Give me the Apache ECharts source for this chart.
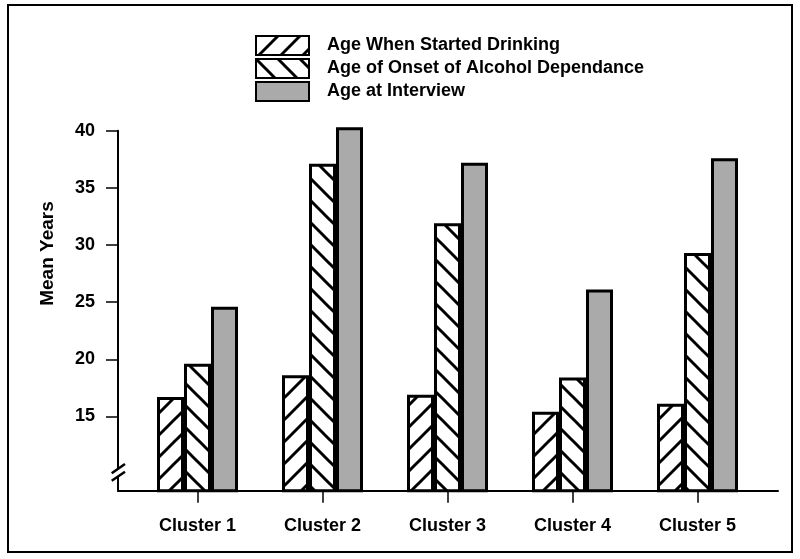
<!DOCTYPE html>
<html>
<head>
<meta charset="utf-8">
<title>Mean Years by Cluster</title>
<script src="https://cdn.jsdelivr.net/npm/echarts@6/dist/echarts.min.js"></script>
<style>
  html, body { margin: 0; padding: 0; background: #fff; }
  #chart { width: 800px; height: 559px; }
</style>
</head>
<body>
<div id="chart"></div>
<script>
// chart data
var categories = ['Cluster 1', 'Cluster 2', 'Cluster 3', 'Cluster 4', 'Cluster 5']
var seriesNames = ['Age When Started Drinking', 'Age of Onset of Alcohol Dependance', 'Age at Interview']
var startedDrinking = [16.7, 18.6, 16.9, 15.4, 16.1]
var onsetDependence = [19.6, 37.1, 31.9, 18.4, 29.3]
var ageAtInterview = [24.6, 40.3, 37.2, 26.1, 37.6]
var yTicks = [15, 20, 25, 30, 35, 40]

var font = 'Liberation Sans, Arial, Helvetica, sans-serif'

// scale: 8.5 .. 40 drawn between y=130.7 and y=490.7, bar grid reaches a bit higher
var pxPerUnit = 360 / 31.5
var barMax = 40.8
var barTop = 130.7 - (barMax - 40) * pxPerUnit

// hatch tiles for the two striped series
function makeHatch(dir) {
  var size = 22
  var c = document.createElement('canvas')
  c.width = size
  c.height = size
  var ctx = c.getContext('2d')
  ctx.fillStyle = '#fff'
  ctx.fillRect(0, 0, size, size)
  ctx.strokeStyle = '#000'
  ctx.lineWidth = 3
  var offs = [-size, 0, size]
  for (var i = 0; i < offs.length; i++) {
    var o = offs[i]
    ctx.beginPath()
    if (dir === 'up') {
      ctx.moveTo(o - 2, size + 2)
      ctx.lineTo(o + size + 2, -2)
    } else {
      ctx.moveTo(o - 2, -2)
      ctx.lineTo(o + size + 2, size + 2)
    }
    ctx.stroke()
  }
  return c
}

var chart = echarts.init(document.getElementById('chart'), null, { renderer: 'canvas' })

var barBase = {
  type: 'bar',
  xAxisIndex: 0,
  yAxisIndex: 0,
  barWidth: 27,
  barGap: '0%',
  clip: true,
  animation: false
}

var option = {
  backgroundColor: '#fff',
  animation: false,
  textStyle: { fontFamily: font },
  legend: {
    orient: 'vertical',
    left: 255,
    top: 35,
    padding: 0,
    itemWidth: 53,
    itemHeight: 19,
    itemGap: 2,
    selectedMode: false,
    icon: 'rect',
    data: seriesNames,
    textStyle: {
      fontFamily: font,
      fontWeight: 'bold',
      fontSize: 18,
      lineHeight: 19,
      color: '#000',
      padding: [0, 0, 0, 13]
    }
  },
  grid: [
    { left: 135, right: 40, top: barTop, bottom: 68.3 },
    { left: 118, right: 22, top: 130.7, bottom: 68.3 }
  ],
  xAxis: [
    {
      type: 'category',
      gridIndex: 0,
      data: categories,
      axisLine: { show: false },
      axisTick: { show: true, alignWithLabel: true, length: 12, lineStyle: { color: '#000', width: 1.5 } },
      axisLabel: { color: '#000', fontFamily: font, fontWeight: 'bold', fontSize: 18, margin: 26 },
      splitLine: { show: false }
    },
    {
      type: 'value',
      gridIndex: 1,
      min: 0,
      max: 1,
      axisLine: { show: true, onZero: false, lineStyle: { color: '#000', width: 2 } },
      axisTick: { show: false },
      axisLabel: { show: false },
      splitLine: { show: false }
    }
  ],
  yAxis: [
    {
      type: 'value',
      gridIndex: 0,
      min: 8.5,
      max: barMax,
      offset: 17,
      axisLine: { show: false },
      axisTick: { show: true, length: 12, customValues: yTicks, lineStyle: { color: '#000', width: 1.5 } },
      axisLabel: { color: '#000', fontFamily: font, fontWeight: 'bold', fontSize: 18, margin: 23, customValues: yTicks },
      splitLine: { show: false }
    },
    {
      type: 'value',
      gridIndex: 1,
      min: 0,
      max: 1,
      axisLine: { show: true, onZero: false, lineStyle: { color: '#000', width: 2 } },
      axisTick: { show: false },
      axisLabel: { show: false },
      splitLine: { show: false }
    }
  ],
  graphic: [
    // outer frame
    {
      type: 'rect',
      shape: { x: 8, y: 5, width: 784, height: 547 },
      style: { fill: null, stroke: '#000', lineWidth: 2 },
      silent: true
    },
    // y axis title
    {
      type: 'text',
      x: 48,
      y: 253.5,
      rotation: Math.PI / 2,
      style: {
        text: 'Mean Years',
        fill: '#000',
        font: 'bold 19px ' + font,
        align: 'center',
        verticalAlign: 'middle'
      },
      silent: true
    },
    // axis break marks
    {
      type: 'rect',
      shape: { x: 115, y: 469, width: 6, height: 7 },
      style: { fill: '#fff' },
      z: 100,
      silent: true
    },
    {
      type: 'line',
      shape: { x1: 111.7, y1: 473.3, x2: 125, y2: 464 },
      style: { stroke: '#000', lineWidth: 2.5 },
      z: 101,
      silent: true
    },
    {
      type: 'line',
      shape: { x1: 111.7, y1: 480.7, x2: 125, y2: 471.7 },
      style: { stroke: '#000', lineWidth: 2.5 },
      z: 101,
      silent: true
    }
  ],
  series: [
    Object.assign({}, barBase, {
      name: seriesNames[0],
      data: startedDrinking,
      itemStyle: { color: { image: makeHatch('up'), repeat: 'repeat' }, borderColor: '#000', borderWidth: 3 }
    }),
    Object.assign({}, barBase, {
      name: seriesNames[1],
      data: onsetDependence,
      itemStyle: { color: { image: makeHatch('down'), repeat: 'repeat' }, borderColor: '#000', borderWidth: 3 }
    }),
    Object.assign({}, barBase, {
      name: seriesNames[2],
      data: ageAtInterview,
      itemStyle: { color: '#aaaaaa', borderColor: '#000', borderWidth: 3 }
    })
  ]
}

chart.setOption(option)
</script>
</body>
</html>
